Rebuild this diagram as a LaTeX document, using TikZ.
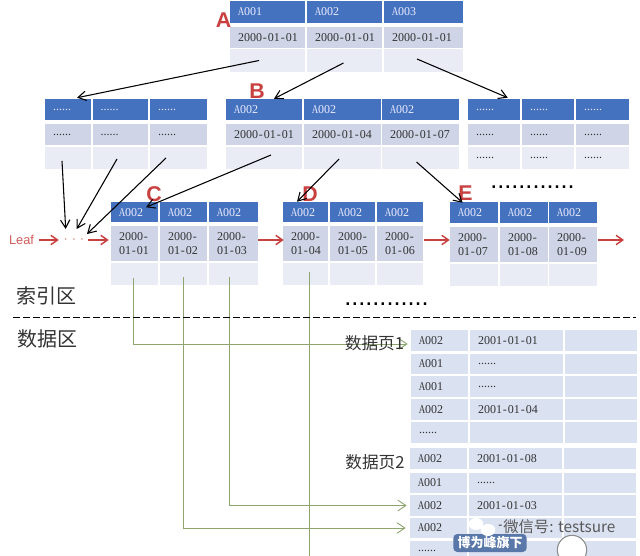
\documentclass[tikz,border=0pt]{standalone}
\usepackage{fontspec}
\setmainfont{Liberation Serif}
\setsansfont{Liberation Sans}
\newfontfamily\cjk{Noto Sans CJK SC}
\usetikzlibrary{arrows.meta,shapes.geometric}
\definecolor{hdblue}{HTML}{4472BE}
\definecolor{rowb}{HTML}{CFD5E7}
\definecolor{rowc}{HTML}{E9EBF5}
\definecolor{rowd}{HTML}{DAE1F1}
\definecolor{redlab}{HTML}{C8403F}
\definecolor{greenl}{HTML}{8FA56F}
\definecolor{txt}{HTML}{333333}
\newcommand\hyp{\makebox[.5em]{-}}
\newcommand\AID[1]{\makebox[.5em]{\scalebox{.75}[1]{A}}#1}
\newcommand\DT[3]{#1\hyp #2\hyp #3}
\newcommand\DTT[3]{#1\hyp\\#2\hyp #3}
\newcommand\dd{......}
\newcommand\cell[7]{%
  \pgfmathsetmacro\cw{(#4-#2)*0.75}%
  \pgfmathsetmacro\ch{(#5-#3)*0.75}%
  \pgfmathsetmacro\cxm{(#2+#4)/2}%
  \pgfmathsetmacro\cym{(#3+#5)/2}%
  \node[#6,minimum width=\cw pt,minimum height=\ch pt,text width=\cw pt-12pt] (#1) at (\cxm,\cym) {#7};}
% name, y1..y6, list of col/x1/x2/row1/row2/row3
\newcommand\tbl[8]{%
  \foreach \c/\xa/\xb/\ta/\tb/\tc in {#8}{%
    \cell{#11\c}{\xa}{#2}{\xb}{#3}{hdcell}{\ta}
    \cell{#12\c}{\xa}{#4}{\xb}{#5}{bcell}{\tb}
    \cell{#13\c}{\xa}{#6}{\xb}{#7}{ccell}{\tc}
  }}
\tikzset{
  cellbase/.style={inner xsep=6pt,inner ysep=0pt,align=left,font=\fontsize{9}{10.5}\selectfont,text=txt},
  hdcell/.style={cellbase,fill=hdblue,text=white!92!blue},
  bcell/.style={cellbase,fill=rowb},
  ccell/.style={cellbase,fill=rowc},
  dcell/.style={cellbase,fill=rowd},
  blk/.style={black,line width=.8pt,-{Straight Barb[length=6pt,width=7pt]}},
  redarr/.style={redlab,line width=1.1pt,-{Straight Barb[length=5pt,width=7pt]}},
  grn/.style={greenl,line width=.7pt},
  grnarr/.style={grn,-{Straight Barb[length=6pt,width=8pt]}},
  letter/.style={font=\sffamily\bfseries\fontsize{16}{16}\selectfont,text=redlab,inner sep=0pt},
  zone/.style={font=\cjk\fontsize{15}{15}\selectfont,text=black!80,inner sep=0pt},
  pagelab/.style={font=\cjk\fontsize{12.5}{13}\selectfont,text=black!80,inner sep=0pt},
  bigdots/.style={font=\sffamily\fontsize{19}{19}\selectfont,inner sep=0pt,anchor=base west},
}
\begin{document}
\begin{tikzpicture}[x=0.75pt,y=-0.75pt]
\useasboundingbox (0,0) rectangle (640,556);
\clip (0,0) rectangle (640,556);
\tbl{a}{1}{23}{27}{48}{49}{72}{1/230/305/\AID{001}/\DT{2000}{01}{01}/{},2/307/382/\AID{002}/\DT{2000}{01}{01}/{},3/384/463/\AID{003}/\DT{2000}{01}{01}/{}}
\tbl{l}{99}{120}{124}{145}{147}{169}{1/45/91/\dd/\dd/{},2/92.5/148/\dd/\dd/{},3/150/207/\dd/\dd/{}}
\tbl{b}{99}{120}{124}{145}{147}{169}{1/226/302/\AID{002}/\DT{2000}{01}{01}/{},2/304/381/\AID{002}/\DT{2000}{01}{04}/{},3/382/459/\AID{002}/\DT{2000}{01}{07}/{}}
\tbl{r}{99}{120}{124}{145}{147}{169}{1/468/520/\dd/\dd/\dd,2/522/574/\dd/\dd/\dd,3/576/629/\dd/\dd/\dd}
\tbl{c}{202}{222.5}{226}{261}{263}{285}{1/111/158/\AID{002}/\DTT{2000}{01}{01}/{},2/160/207/\AID{002}/\DTT{2000}{01}{02}/{},3/209/258/\AID{002}/\DTT{2000}{01}{03}/{}}
\tbl{d}{202}{222.5}{226}{261}{263}{285}{1/283/328/\AID{002}/\DTT{2000}{01}{04}/{},2/330/375/\AID{002}/\DTT{2000}{01}{05}/{},3/377/423/\AID{002}/\DTT{2000}{01}{06}/{}}
\tbl{e}{202}{223.5}{227}{262}{264}{286}{1/450/498/\AID{002}/\DTT{2000}{01}{07}/{},2/500/548/\AID{002}/\DTT{2000}{01}{08}/{},3/549/597/\AID{002}/\DTT{2000}{01}{09}/{}}
% data page 1
\foreach \r/\ya/\yb/\ta/\tb in {1/330/351/\AID{002}/\DT{2001}{01}{01},2/354/374/\AID{001}/\dd,3/376/397/\AID{001}/\dd,4/399/420/\AID{002}/\DT{2001}{01}{04},5/422/443/\dd/{}}{
  \cell{p\r1}{411}{\ya}{468}{\yb}{dcell}{\ta}
  \cell{p\r2}{470}{\ya}{563}{\yb}{dcell}{\tb}
  \cell{p\r3}{565}{\ya}{637}{\yb}{dcell}{}
}
% data page 2
\foreach \r/\ya/\yb/\ta/\tb in {1/448/469/\AID{002}/\DT{2001}{01}{08},2/473/493/\AID{001}/\dd,3/495/516/\AID{002}/\DT{2001}{01}{03},4/518/538/\AID{002}/{},5/541/561/\dd/{}}{
  \cell{q\r1}{410}{\ya}{467}{\yb}{dcell}{\ta}
  \cell{q\r2}{469}{\ya}{562}{\yb}{dcell}{\tb}
  \cell{q\r3}{564}{\ya}{636}{\yb}{dcell}{}
}
% labels
\node[letter] (la) at (223.5,20.5) {A};
\node[letter] (lb) at (257,91) {B};
\node[letter] (lc) at (154,194) {C};
\node[letter] (ld) at (310,194.5) {D};
\node[letter] (le) at (465.5,193.5) {E};
\node[font=\sffamily\fontsize{9.6}{10}\selectfont,text=redlab!85,inner sep=0pt] (leaf) at (21.5,240) {Leaf};
\node[font=\sffamily\fontsize{9}{9}\selectfont,text=redlab,inner sep=0pt] (dots) at (74,240) {$\cdot\,\cdot\,\cdot$};
% black connectors
\draw[blk] ([shift={(-8.5,0)}]a31.center) -- ([shift={(9,-1)}]l11.north);
\draw[blk] ([shift={(-1,2.5)}]a32.center) -- ([shift={(10,0)}]b11.north);
\draw[blk] ([shift={(-6.5,-1.5)}]a33.center) -- ([shift={(13.7,-1)}]r11.north);
\draw[blk] ([shift={(7,-3)}]b31.center) -- ([shift={(11.5,-5)}]c11.center);
\draw[blk] ([shift={(-3.5,1)}]b32.center) -- ([shift={(-8.5,0)}]d11.north);
\draw[blk] ([shift={(-4,4)}]b33.center) -- ([shift={(-11.3,1)}]e11.north);
\draw[blk] ([shift={(-6,3)}]l31.center) -- ([shift={(-8.3,-11)}]dots.center);
\draw[blk] ([shift={(-3.25,1)}]l32.center) -- ([shift={(2.7,-11)}]dots.center);
\draw[blk] ([shift={(-12.5,0)}]l33.center) -- ([shift={(13,-6)}]dots.center);
% red connectors
\coordinate (redend) at (624,240);
\draw[redarr] ([shift={(5,0)}]leaf.east) -- ([shift={(-5,0)}]dots.west);
\draw[redarr] ([shift={(4,0)}]dots.east) -- ([shift={(-2,-3.5)}]c21.west);
\draw[redarr] ([shift={(0,-3.5)}]c23.east) -- ([shift={(1,-3.5)}]d21.west);
\draw[redarr] ([shift={(1,-3.5)}]d23.east) -- ([shift={(0,-4.5)}]e21.west);
\draw[redarr] ([shift={(1,-4.5)}]e23.east) -- (redend);
% green connectors
\coordinate (greenend) at (309,556);
\draw[grnarr] ([shift={(-1,4)}]c31.center) |- ([shift={(-3,3.5)}]p11.west);
\draw[grnarr] ([shift={(-0.5,3)}]c32.center) |- ([shift={(-4,0)}]q41.west);
\draw[grnarr] ([shift={(-4.5,3)}]c33.center) |- ([shift={(-3,0)}]q31.west);
\draw[grn] ([shift={(3.5,-2)}]d31.center) -- (greenend);
% zones
\node[zone] (zi) at (46.5,296) {索引区};
\node[zone] (zd) at (47.5,339) {数据区};
\coordinate (dl) at (13,317);
\coordinate (dr) at (636,317);
\draw[black,line width=.7pt,dash pattern=on 5pt off 2.5pt] (dl) -- (dr);
\node[pagelab] (pg1) at (374.5,343.5) {数据页1};
\node[pagelab] (pg2) at (375,462) {数据页2};
\node[bigdots] (dotsa) at (490,189) {............};
\node[bigdots] (dotsb) at (344,306) {............};
% watermark
\node[circle,draw=black!45,line width=.8pt,fill=white,minimum size=22pt,inner sep=0pt] (wcirc) at (572,550) {};
\node[fill=hdblue!65!gray,rounded corners=3pt,text=white,font=\cjk\bfseries\fontsize{9.75}{10}\selectfont,minimum width=55pt,minimum height=13.5pt,inner sep=0pt] (badge) at (490,543) {博为峰旗下};
\node[ellipse,fill=white,minimum width=11pt,minimum height=9pt,inner sep=0pt] (wa) at (476,524) {};
\node[ellipse,fill=white,minimum width=11pt,minimum height=9pt,inner sep=0pt] (wb) at (488,530) {};
\node[font=\fontsize{9}{10}\selectfont,text=txt,inner sep=0pt,anchor=west] (wn) at (497,527) {\hyp};
\node[font=\cjk\fontsize{11.5}{12}\selectfont,text=black!65,inner sep=0pt,anchor=west] (wm) at (503,527) {微信号: testsure};
\end{tikzpicture}
\end{document}
